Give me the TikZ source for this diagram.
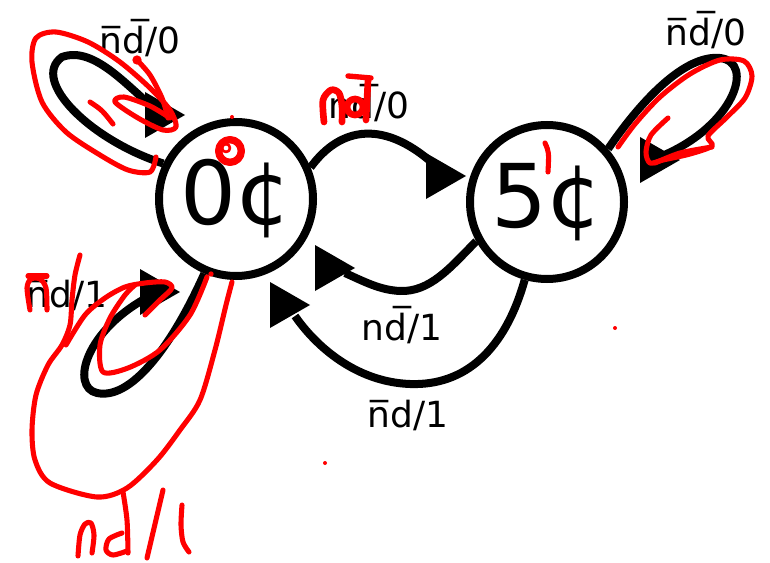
\documentclass[tikz,border=0pt]{standalone}
\usepackage{fontspec}
\setmainfont{DejaVu Sans}
\begin{document}
\begin{tikzpicture}[x=0.75pt,y=-0.75pt,
  wire/.style={line width=6pt},
  head/.style={fill=black},
  state/.style={circle,draw,line width=6pt,minimum size=115.5pt,inner sep=0pt,
    font=\fontsize{66}{70}\selectfont},
  lbl/.style={font=\fontsize{27}{30}\selectfont,inner sep=0pt},
  ink/.style={draw=red,line width=3.8pt,line cap=round,line join=round},
  dot/.style={fill=red}]
\useasboundingbox (0,0) rectangle (770,563);

% states
\node[state] (s0) at (236,199) {0¢};
\node[state] (s5) at (547,202) {5¢};

% labels
\node[lbl] (l1) at (140,38) {n^^^^0305d^^^^0305/0};
\node[lbl] (l2) at (369,103) {nd^^^^0305/0};
\node[lbl] (l3) at (706,30) {n^^^^0305d^^^^0305/0};
\node[lbl] (l4) at (67,295) {n^^^^0305d/1};
\node[lbl] (l5) at (402,325) {nd^^^^0305/1};
\node[lbl] (l6) at (408,415) {n^^^^0305d/1};

% arrow tips and line ends
\coordinate (t1) at (466,176); \coordinate (h1) at (440,170);
\coordinate (t2) at (355,268); \coordinate (h2) at (345,273);
\coordinate (t3) at (310,305); \coordinate (h3) at (295,316);
\coordinate (t4) at (185,115); \coordinate (h4) at (160,113);
\coordinate (t5) at (180,292); \coordinate (h5) at (150,296);
\coordinate (t6) at (680,160); \coordinate (h6) at (662,156);

% connectors
\draw[wire] (s0.23) .. controls (340,127) and (385,117) .. (h1);
\draw[wire] (s5.209) .. controls (450,268) and (430,292) .. (400,291)
   .. controls (380,290) and (365,282) .. (h2);
\draw[wire] (s5.254) .. controls (505,350) and (465,386) .. (410,384)
   .. controls (355,382) and (315,345) .. (h3);
\draw[wire] (s0.154) .. controls (90,140) and (30,80) .. (62,57)
   .. controls (95,45) and (130,90) .. (h4);
\draw[wire] (s0.247) .. controls (170,350) and (130,400) .. (97,393)
   .. controls (70,387) and (85,330) .. (h5);
\draw[wire] (s5.41) .. controls (650,88) and (690,55) .. (720,58)
   .. controls (755,62) and (735,125) .. (h6);

% arrowheads
\foreach \t in {t1,t2,t3,t4,t5,t6}
  \fill[head] (\t) -- ++(-40,-23) -- ++(0,46) -- cycle;

% red annotations
\draw[ink] plot[smooth] coordinates {(156,157) (150,172) (128,170) (100,155) (66,132) (42,102) (32,62) (36,38) (56,32) (88,42) (120,62) (150,88) (170,110) (176,127) (163,130) (138,118) (115,102) (124,97) (150,106) (170,118)};
\draw[ink] plot[smooth] coordinates {(137,60) (150,75) (162,98) (168,118)};
\fill[dot] (137,60) circle (3.5pt);
\draw[ink] (90,102) .. controls (102,110) .. (113,124);
\draw[ink,line width=5.5pt] (230,151) circle (8.5pt);
\draw[ink,line width=2pt] (226,148) circle (3pt);
\fill[dot] (232,117) circle (1.5pt);

\draw[ink,line width=5pt] plot[smooth] coordinates {(324,122) (323,100) (331,90) (339,93) (342,106) (342,122)};
\draw[ink,line width=5pt] (355,107) circle (6pt);
\draw[ink,line width=5pt] (368,80) -- (366,120);
\draw[ink,line width=4pt] (348,76) -- (371,78);

\draw[ink] plot[smooth] coordinates {(618,147) (635,124) (660,97) (690,74) (720,60) (744,61) (752,76) (745,98) (726,118) (708,136) (712,146) (690,154) (663,160) (650,163) (646,152) (651,135) (668,118)};
\draw[ink] plot[smooth] coordinates {(655,163) (680,153) (712,147)};
\draw[ink] (545,143) .. controls (549,152) .. (548,172);

\draw[ink] (28,276) -- (47,276);
\draw[ink] plot[smooth] coordinates {(30,310) (27,288) (31,279) (40,279) (46,288) (47,310)};
\draw[ink] plot[smooth] coordinates {(80,255) (75,275) (72,300) (70,325) (62,345) (48,365) (36,395) (32,430) (35,460) (50,483) (97,497) (127,488) (157,460) (180,430) (200,400) (215,350) (226,305) (232,282)};
\draw[ink] plot[smooth] coordinates {(66,345) (85,315) (105,298) (125,287) (145,283) (165,282) (172,288) (160,300) (145,315)};
\draw[ink] plot[smooth] coordinates {(207,277) (190,315) (160,350) (128,368) (103,372) (100,345) (110,318) (125,295) (135,285)};
\fill[dot] (211,274) circle (2pt);

\draw[ink] plot[smooth] coordinates {(123,492) (127,520) (128,553)};
\draw[ink] plot[smooth] coordinates {(78,556) (80,535) (85,524) (91,523) (94,535) (92,553)};
\draw[ink] plot[smooth] coordinates {(122,533) (109,539) (106,550) (113,555) (127,551)};
\draw[ink] (163,490) -- (147,558);
\draw[ink] plot[smooth] coordinates {(182,505) (181,525) (183,542) (189,552)};

\fill[dot] (615,328) circle (1.5pt);
\fill[dot] (325,463) circle (1.5pt);
\end{tikzpicture}
\end{document}
